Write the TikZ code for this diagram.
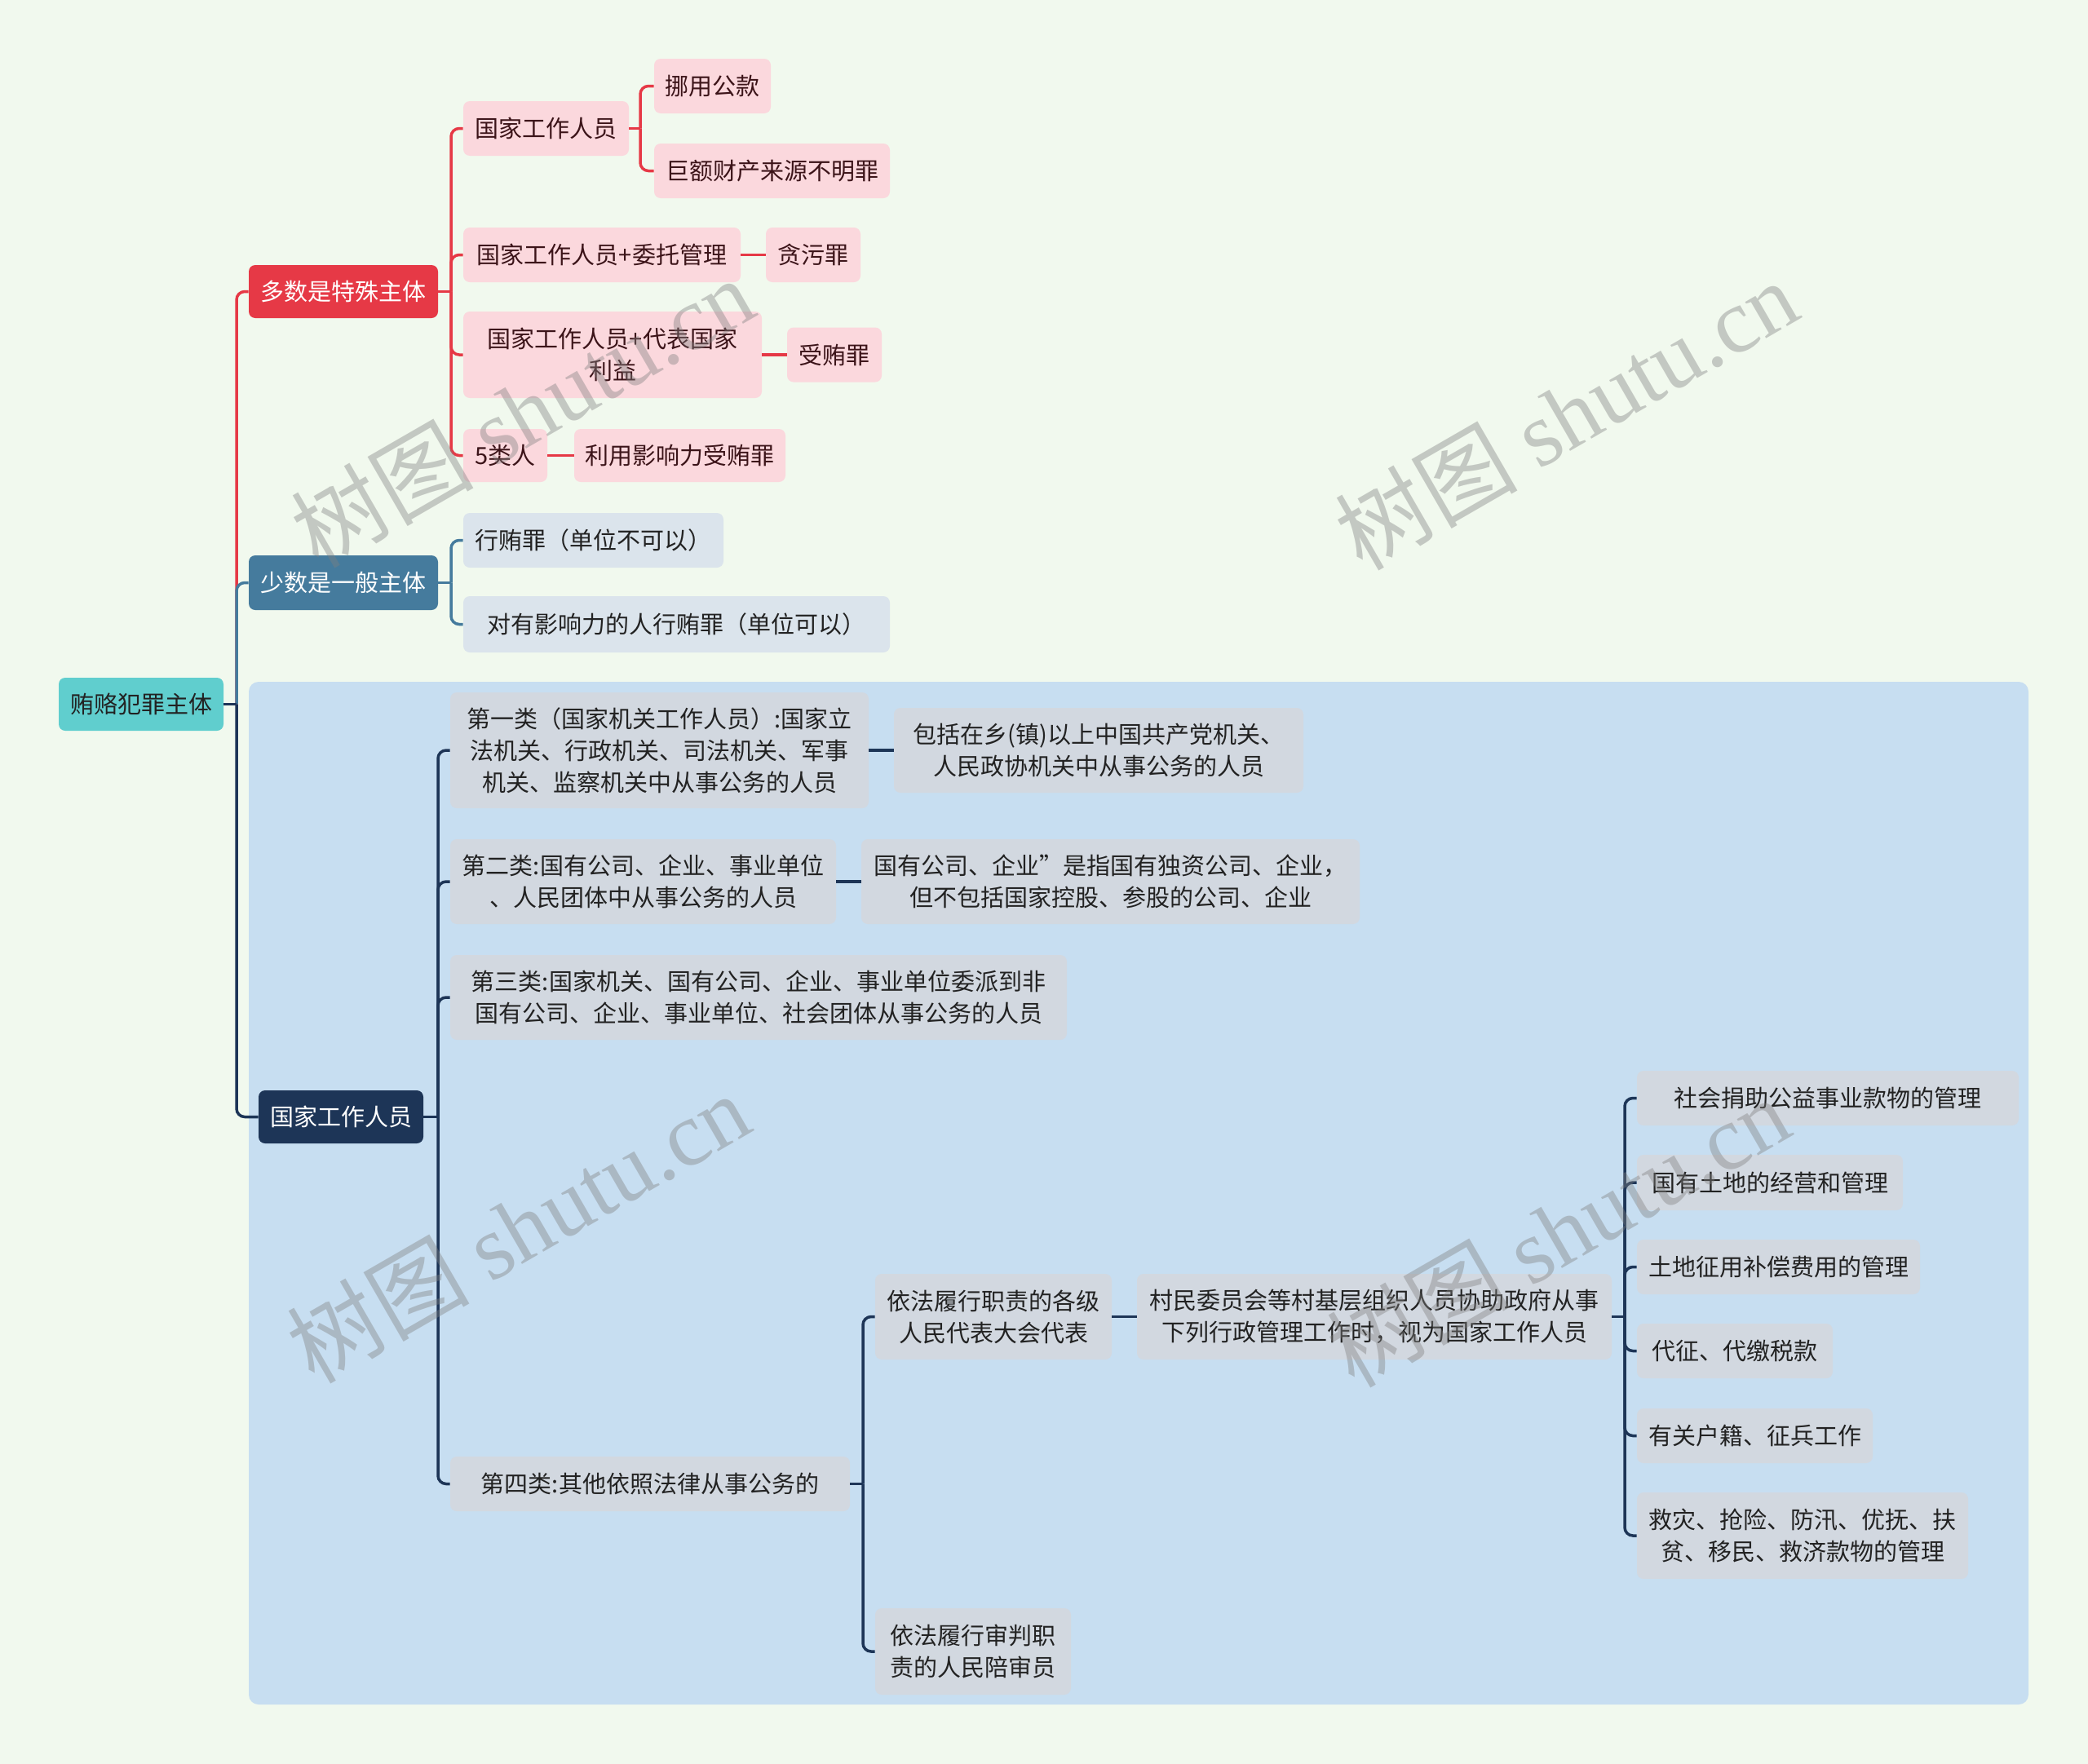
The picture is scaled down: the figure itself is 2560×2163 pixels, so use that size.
\documentclass[tikz,border=0pt]{standalone}
\usepackage{fontspec}
\setmainfont{Noto Sans CJK SC}
\newfontfamily\wmlat{Liberation Serif}
\usetikzlibrary{fit}
\definecolor{bgc}{RGB}{241,249,238}
\definecolor{regc}{RGB}{199,222,241}
\definecolor{cRed}{RGB}{230,57,70}
\definecolor{cPink}{RGB}{251,216,221}
\definecolor{cRedTxt}{RGB}{60,20,25}
\definecolor{cBlue}{RGB}{69,123,157}
\definecolor{cBlueL}{RGB}{219,228,236}
\definecolor{cNavy}{RGB}{29,53,87}
\definecolor{cGray}{RGB}{210,216,224}
\definecolor{cTeal}{RGB}{96,206,206}
\definecolor{cTxt}{RGB}{34,34,34}
\newcommand\mmconn[4]{\draw[#1] (#2.east) -- (#2.east -| #3); \draw[#1] (#2.east -| #3) |- (#4.west);}
% box style, text style, name, corner1, corner2, text
\newcommand\mmbox[6]{\node[#1, fit={#4 #5}] (#3) {}; \node[#2] (#3t) at (#3.center) {#6};}
\begin{document}
\begin{tikzpicture}[x=0.5pt,y=-0.5pt,
  bx/.style={inner sep=0pt, rounded corners=4pt},
  rootb/.style={bx, fill=cTeal},
  redb/.style={bx, fill=cRed},
  blueb/.style={bx, fill=cBlue},
  navyb/.style={bx, fill=cNavy},
  pinkb/.style={bx, fill=cPink},
  bluelb/.style={bx, fill=cBlueL},
  grayb/.style={bx, fill=cGray},
  tx/.style={inner sep=0pt, align=center, font=\fontsize{14.5}{19.5}\selectfont, text=cTxt},
  txw/.style={tx, text=white},
  txr/.style={tx, text=cRedTxt},
  conn/.style={line width=1.75pt, rounded corners=5pt},
  lred/.style={conn, draw=cRed},
  lblue/.style={conn, draw=cBlue},
  lnavy/.style={conn, draw=cNavy},
  wm/.style={text=gray, opacity=0.4, font=\fontsize{56}{60}\selectfont, rotate=30, inner sep=0pt}
]
\useasboundingbox (0,0) rectangle (2560,2163);
\fill[bgc] (0,0) rectangle (2560,2163);
\fill[regc, rounded corners=6pt] (305,836) rectangle (2487,2090);

% trunk coordinates
\coordinate (t0) at (290,0);
\coordinate (tA) at (553,0);
\coordinate (tA1) at (785,0);
\coordinate (tB) at (553,0);
\coordinate (tC) at (537,0);
\coordinate (tC4) at (1058,0);
\coordinate (tV) at (1992,0);

% nodes
\mmbox{rootb}{tx}{root}{(72,831)}{(274,896)}{贿赂犯罪主体}
\mmbox{redb}{txw}{A}{(305,325)}{(537,390)}{多数是特殊主体}
\mmbox{blueb}{txw}{B}{(305,681)}{(537,748)}{少数是一般主体}
\mmbox{navyb}{txw}{C}{(317,1337)}{(519,1402)}{国家工作人员}

\mmbox{pinkb}{txr}{a1}{(568,124)}{(771,191)}{国家工作人员}
\mmbox{pinkb}{txr}{a1a}{(802,72)}{(945,139)}{挪用公款}
\mmbox{pinkb}{txr}{a1b}{(802,176)}{(1091,243)}{巨额财产来源不明罪}
\mmbox{pinkb}{txr}{a2}{(568,279)}{(908,346)}{国家工作人员+委托管理}
\mmbox{pinkb}{txr}{a2a}{(939,279)}{(1055,346)}{贪污罪}
\mmbox{pinkb}{txr}{a3}{(568,382)}{(934,488)}{国家工作人员+代表国家\\利益}
\mmbox{pinkb}{txr}{a3a}{(965,401.5)}{(1081,468.5)}{受贿罪}
\mmbox{pinkb}{txr}{a4}{(568,526)}{(671,591)}{5类人}
\mmbox{pinkb}{txr}{a4a}{(704,526)}{(963,591)}{利用影响力受贿罪}

\mmbox{bluelb}{tx}{b1}{(568,629)}{(887,696)}{行贿罪（单位不可以）}
\mmbox{bluelb}{tx}{b2}{(568,731)}{(1091,800)}{对有影响力的人行贿罪（单位可以）}

\mmbox{grayb}{tx}{c1}{(552,849)}{(1065,991)}{第一类（国家机关工作人员）:国家立\\法机关、行政机关、司法机关、军事\\机关、监察机关中从事公务的人员}
\mmbox{grayb}{tx}{c1a}{(1096,868)}{(1598,972)}{包括在乡(镇)以上中国共产党机关、\\人民政协机关中从事公务的人员}
\mmbox{grayb}{tx}{c2}{(552,1029)}{(1025,1133)}{第二类:国有公司、企业、事业单位\\、人民团体中从事公务的人员}
\mmbox{grayb}{tx}{c2a}{(1056,1029)}{(1667,1133)}{国有公司、企业”是指国有独资公司、企业，\\但不包括国家控股、参股的公司、企业}
\mmbox{grayb}{tx}{c3}{(552,1171)}{(1308,1275)}{第三类:国家机关、国有公司、企业、事业单位委派到非\\国有公司、企业、事业单位、社会团体从事公务的人员}
\mmbox{grayb}{tx}{c4}{(552,1786)}{(1042,1853)}{第四类:其他依照法律从事公务的}
\mmbox{grayb}{tx}{c4a}{(1073,1562)}{(1363,1667)}{依法履行职责的各级\\人民代表大会代表}
\mmbox{grayb}{tx}{c4b}{(1073,1972)}{(1313,2078)}{依法履行审判职\\责的人民陪审员}
\mmbox{grayb}{tx}{v}{(1394,1562)}{(1976,1667)}{村民委员会等村基层组织人员协助政府从事\\下列行政管理工作时，视为国家工作人员}
\mmbox{grayb}{tx}{d1}{(2007,1313)}{(2475,1380)}{社会捐助公益事业款物的管理}
\mmbox{grayb}{tx}{d2}{(2007,1416)}{(2333,1484)}{国有土地的经营和管理}
\mmbox{grayb}{tx}{d3}{(2007,1520)}{(2354,1587)}{土地征用补偿费用的管理}
\mmbox{grayb}{tx}{d4}{(2007,1623)}{(2247,1690)}{代征、代缴税款}
\mmbox{grayb}{tx}{d5}{(2007,1727)}{(2296,1794)}{有关户籍、征兵工作}
\mmbox{grayb}{tx}{d6}{(2007,1830)}{(2413,1936)}{救灾、抢险、防汛、优抚、扶\\贫、移民、救济款物的管理}

% connectors level 1
\mmconn{lred}{root}{t0}{A}
\mmconn{lblue}{root}{t0}{B}
\mmconn{lnavy}{root}{t0}{C}

% red subtree
\mmconn{lred}{A}{tA}{a1}
\mmconn{lred}{A}{tA}{a2}
\mmconn{lred}{A}{tA}{a3}
\mmconn{lred}{A}{tA}{a4}
\mmconn{lred}{a1}{tA1}{a1a}
\mmconn{lred}{a1}{tA1}{a1b}
\draw[lred] (a2.east) -- (a2a.west);
\draw[lred] (a3.east) -- (a3a.west);
\draw[lred] (a4.east) -- (a4a.west);

% blue subtree
\mmconn{lblue}{B}{tB}{b1}
\mmconn{lblue}{B}{tB}{b2}

% navy subtree
\mmconn{lnavy}{C}{tC}{c1}
\mmconn{lnavy}{C}{tC}{c2}
\mmconn{lnavy}{C}{tC}{c3}
\mmconn{lnavy}{C}{tC}{c4}
\draw[lnavy] (c1.east) -- (c1a.west);
\draw[lnavy] (c2.east) -- (c2a.west);
\mmconn{lnavy}{c4}{tC4}{c4a}
\mmconn{lnavy}{c4}{tC4}{c4b}
\draw[lnavy] (c4a.east) -- (v.west);
\mmconn{lnavy}{v}{tV}{d1}
\mmconn{lnavy}{v}{tV}{d2}
\mmconn{lnavy}{v}{tV}{d3}
\mmconn{lnavy}{v}{tV}{d4}
\mmconn{lnavy}{v}{tV}{d5}
\mmconn{lnavy}{v}{tV}{d6}

% watermarks
\node[wm] (w1) at (640,505) {树图 {\wmlat shutu.cn}};
\node[wm] (w2) at (1920,508) {树图 {\wmlat shutu.cn}};
\node[wm] (w3) at (635,1505) {树图 {\wmlat shutu.cn}};
\node[wm] (w4) at (1910,1510) {树图 {\wmlat shutu.cn}};
\end{tikzpicture}
\end{document}
